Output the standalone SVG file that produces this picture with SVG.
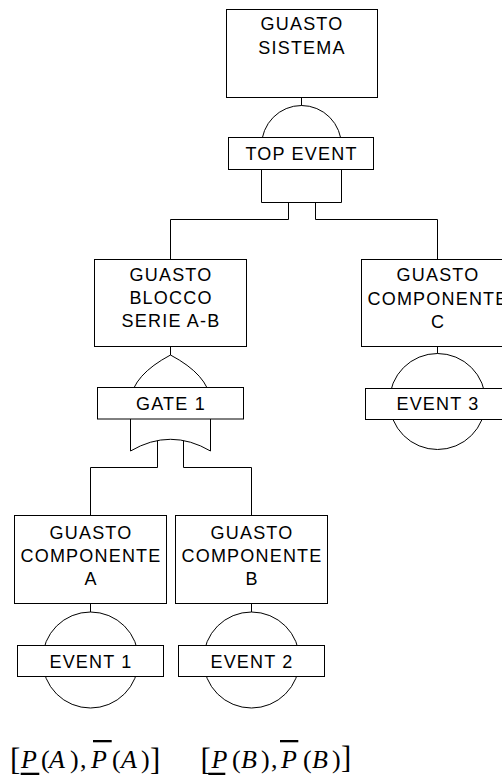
<svg xmlns="http://www.w3.org/2000/svg" width="502" height="779" viewBox="0 0 502 779">
  <style>
    .box { fill: #fff; stroke: #000; stroke-width: 1; }
    .gate { fill: #fff; stroke: #000; stroke-width: 1; }
    .wire { fill: none; stroke: #000; stroke-width: 1; }
    .lbl { font-family: "Liberation Sans", Arial, sans-serif; font-size: 18px; letter-spacing: 1.2px; text-anchor: middle; fill: #000; }
    .m { font-family: "Liberation Serif", "Times New Roman", serif; font-size: 26px; fill: #000; }
    .mi { font-style: italic; }
    .br { font-size: 31px; }
    .bar { fill: #000; }
  </style>

  <!-- connectors (drawn first so gate bodies cover their ends) -->
  <g id="connectors">
    <path class="wire" d="M301.5,97.5 V108"/>
    <path class="wire" d="M288.5,195 V219.5 H170.5 V259.5"/>
    <path class="wire" d="M315.5,195 V219.5 H437.5 V259.5"/>
    <path class="wire" d="M170.5,346.5 V358"/>
    <path class="wire" d="M157.5,436 V467.5 H90.5 V515.5"/>
    <path class="wire" d="M183.5,436 V467.5 H251.5 V515.5"/>
    <path class="wire" d="M90.5,603.5 V614"/>
    <path class="wire" d="M251.5,603.5 V614"/>
    <path class="wire" d="M437.5,346.5 V356"/>
  </g>

  <!-- top event: GUASTO SISTEMA with AND gate -->
  <g id="top-event">
    <rect class="box" x="226.5" y="9.5" width="151" height="88"/>
    <text class="lbl" x="302" y="30">GUASTO</text>
    <text class="lbl" x="302" y="53.5">SISTEMA</text>
    <path class="gate" d="M261.5,202.5 V146 A40,40.5 0 0 1 341.5,146 V202.5 Z"/>
    <rect class="box" x="228.5" y="137.5" width="145" height="32"/>
    <text class="lbl" x="301.5" y="160">TOP EVENT</text>
  </g>

  <!-- intermediate event: series block A-B with OR gate -->
  <g id="gate-1">
    <rect class="box" x="94.5" y="259.5" width="152" height="87"/>
    <text class="lbl" x="171" y="280.7">GUASTO</text>
    <text class="lbl" x="171" y="304">BLOCCO</text>
    <text class="lbl" x="171" y="327.3">SERIE A-B</text>
    <path class="gate" d="M130.5,451 V400 Q133,375 170.5,355 Q208,375 210.5,400 V451 Q170.5,427.6 130.5,451 Z"/>
    <rect class="box" x="97.5" y="387.5" width="146" height="31.5"/>
    <text class="lbl" x="171" y="409.5">GATE 1</text>
  </g>

  <!-- basic event C -->
  <g id="event-3">
    <rect class="box" x="361.5" y="259.5" width="152" height="87"/>
    <text class="lbl" x="438" y="281">GUASTO</text>
    <text class="lbl" x="438" y="304.5">COMPONENTE</text>
    <text class="lbl" x="438" y="328">C</text>
    <circle class="gate" cx="437.5" cy="401.5" r="48"/>
    <rect class="box" x="365.5" y="388.5" width="145" height="31"/>
    <text class="lbl" x="438" y="410">EVENT 3</text>
  </g>

  <!-- basic event A -->
  <g id="event-1">
    <rect class="box" x="14.5" y="515.5" width="152" height="88"/>
    <text class="lbl" x="91" y="538.5">GUASTO</text>
    <text class="lbl" x="91" y="561.7">COMPONENTE</text>
    <text class="lbl" x="91" y="585">A</text>
    <circle class="gate" cx="90.5" cy="660" r="48"/>
    <rect class="box" x="17.5" y="645.5" width="146" height="31"/>
    <text class="lbl" x="91" y="668">EVENT 1</text>
  </g>

  <!-- basic event B -->
  <g id="event-2">
    <rect class="box" x="175.5" y="515.5" width="152" height="88"/>
    <text class="lbl" x="252" y="538.5">GUASTO</text>
    <text class="lbl" x="252" y="561.7">COMPONENTE</text>
    <text class="lbl" x="252" y="585">B</text>
    <circle class="gate" cx="251.5" cy="660" r="48"/>
    <rect class="box" x="178.5" y="645.5" width="146" height="31"/>
    <text class="lbl" x="252" y="668">EVENT 2</text>
  </g>

  <!-- probability intervals of the basic events: [lower P, upper P] -->
  <g id="interval-a">
    <text class="m" y="768"><tspan class="br" x="10" dy="2">[</tspan><tspan class="mi" x="21" dy="-2">P</tspan><tspan x="41">(</tspan><tspan class="mi" x="49">A</tspan><tspan x="70">)</tspan><tspan x="80">,</tspan><tspan class="mi" x="91">P</tspan><tspan x="112">(</tspan><tspan class="mi" x="121">A</tspan><tspan x="141">)</tspan><tspan class="br" x="150" dy="2">]</tspan></text>
    <rect class="bar" x="20.7" y="772.7" width="18.6" height="2.3"/>
    <rect class="bar" x="93" y="740" width="18.7" height="2.3"/>
  </g>
  <g id="interval-b">
    <text class="m" y="768"><tspan class="br" x="200.5" dy="2">[</tspan><tspan class="mi" x="211.5" dy="-2">P</tspan><tspan x="232">(</tspan><tspan class="mi" x="241">B</tspan><tspan x="261">)</tspan><tspan x="271">,</tspan><tspan class="mi" x="281">P</tspan><tspan x="303">(</tspan><tspan class="mi" x="312">B</tspan><tspan x="332">)</tspan><tspan class="br" x="341">]</tspan></text>
    <rect class="bar" x="208.3" y="772.7" width="17" height="2.3"/>
    <rect class="bar" x="280" y="740" width="18.3" height="2.3"/>
  </g>
</svg>
